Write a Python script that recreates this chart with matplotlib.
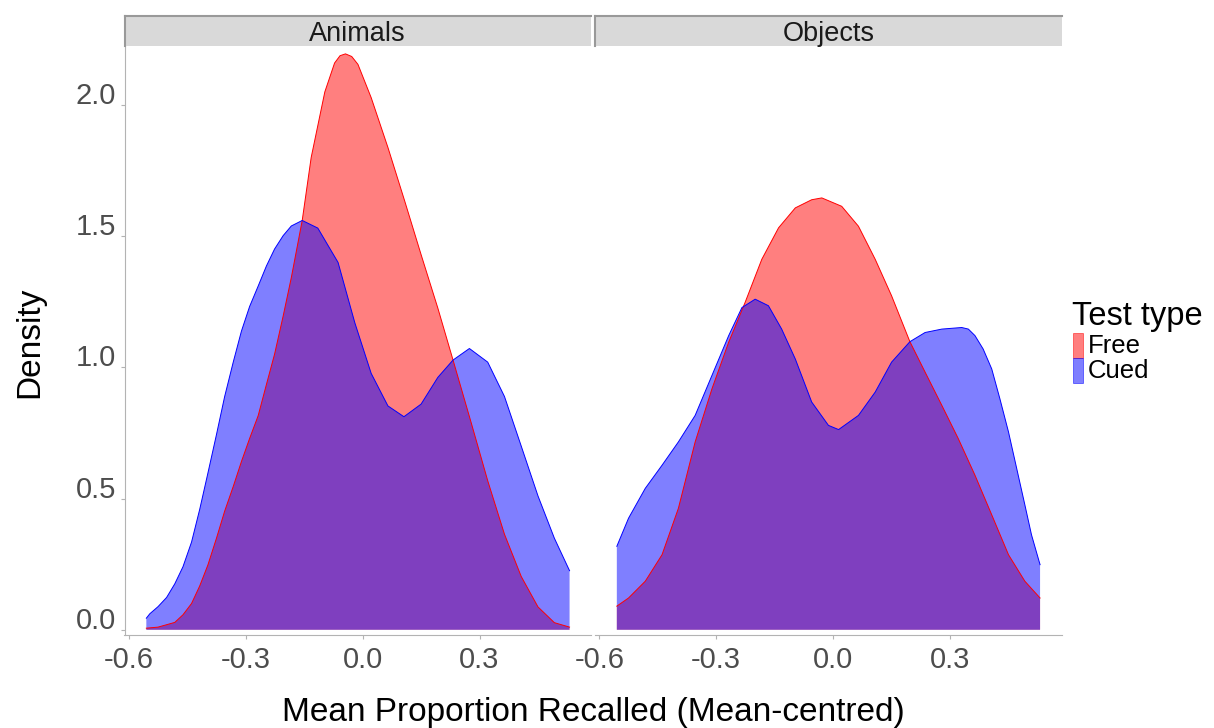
import matplotlib.pyplot as plt
import matplotlib.transforms as mtransforms
from matplotlib.patches import Rectangle

plt.rcParams['font.family'] = ['Liberation Sans', 'DejaVu Sans']

# Density curves (x = mean-centred proportion, y = density)
panels = ['Animals', 'Objects']
test_types = ['Free', 'Cued']

animals_free_x = [-0.555, -0.525, -0.482, -0.461, -0.439, -0.418, -0.397, -0.375, -0.354,
                  -0.332, -0.311, -0.290, -0.268, -0.247, -0.226, -0.204, -0.183, -0.155,
                  -0.132, -0.097, -0.072, -0.058, -0.044, -0.028, -0.012, 0.022, 0.065,
                  0.108, 0.150, 0.193, 0.232, 0.279, 0.321, 0.364, 0.407, 0.450, 0.492,
                  0.531]
animals_free_y = [0.006, 0.010, 0.028, 0.057, 0.100, 0.167, 0.247, 0.349, 0.452,
                  0.546, 0.641, 0.729, 0.816, 0.934, 1.050, 1.195, 1.342, 1.560,
                  1.800, 2.050, 2.160, 2.188, 2.195, 2.185, 2.155, 2.028, 1.838,
                  1.634, 1.430, 1.226, 1.028, 0.787, 0.568, 0.364, 0.203, 0.087, 0.027,
                  0.010]

animals_cued_x = [-0.555, -0.546, -0.525, -0.503, -0.482, -0.461, -0.439, -0.418, -0.397,
                  -0.375, -0.354, -0.332, -0.311, -0.290, -0.268, -0.247, -0.226, -0.204,
                  -0.183, -0.155, -0.115, -0.063, -0.020, 0.022, 0.065, 0.106, 0.150,
                  0.193, 0.232, 0.274, 0.321, 0.364, 0.407, 0.450, 0.492, 0.531]
animals_cued_y = [0.044, 0.061, 0.088, 0.123, 0.175, 0.240, 0.334, 0.459, 0.597,
                  0.744, 0.889, 1.020, 1.138, 1.232, 1.310, 1.386, 1.451, 1.502,
                  1.539, 1.560, 1.531, 1.400, 1.170, 0.977, 0.853, 0.812, 0.860,
                  0.962, 1.028, 1.072, 1.020, 0.889, 0.700, 0.510, 0.349, 0.225]

objects_free_x = [-0.555, -0.525, -0.482, -0.439, -0.397, -0.354, -0.311, -0.268, -0.226,
                  -0.183, -0.140, -0.097, -0.055, -0.029, 0.022, 0.065, 0.108, 0.150,
                  0.197, 0.236, 0.279, 0.321, 0.364, 0.407, 0.450, 0.492, 0.531]
objects_free_y = [0.090, 0.121, 0.185, 0.286, 0.463, 0.716, 0.918, 1.096, 1.247,
                  1.412, 1.532, 1.608, 1.639, 1.646, 1.614, 1.538, 1.412, 1.273,
                  1.098, 0.982, 0.855, 0.729, 0.589, 0.438, 0.286, 0.185, 0.121]

objects_cued_x = [-0.555, -0.525, -0.482, -0.439, -0.397, -0.354, -0.311, -0.268, -0.234,
                  -0.200, -0.166, -0.132, -0.097, -0.055, -0.012, 0.014, 0.065, 0.108,
                  0.150, 0.197, 0.236, 0.279, 0.330, 0.347, 0.364, 0.385, 0.407, 0.428,
                  0.450, 0.471, 0.492, 0.509, 0.531]
objects_cued_y = [0.318, 0.425, 0.539, 0.627, 0.716, 0.817, 0.969, 1.121, 1.228,
                  1.260, 1.235, 1.146, 1.032, 0.868, 0.779, 0.763, 0.817, 0.906,
                  1.020, 1.098, 1.133, 1.146, 1.152, 1.146, 1.121, 1.070, 0.994, 0.880,
                  0.754, 0.615, 0.476, 0.362, 0.248]

curves = {
    'Animals': {'Free': (animals_free_x, animals_free_y), 'Cued': (animals_cued_x, animals_cued_y)},
    'Objects': {'Free': (objects_free_x, objects_free_y), 'Cued': (objects_cued_x, objects_cued_y)},
}
line_colors = {'Free': '#FF0000', 'Cued': '#0000FF'}

x_ticks = [-0.6, -0.3, 0.0, 0.3]
y_ticks = [0.0, 0.5, 1.0, 1.5, 2.0]

W, H = 1214, 728
fig = plt.figure(figsize=(W / 100, H / 100), dpi=100)


def fig_box(left, top, right, bottom):
    return [left / W, 1 - bottom / H, (right - left) / W, (bottom - top) / H]


axis_grey = '#b3b3b3'
panel_lefts = [124.5, 595]
for i, name in enumerate(panels):
    left = panel_lefts[i]
    ax = fig.add_axes(fig_box(left, 46, left + 466.5, 635))
    for t in test_types:
        xs, ys = curves[name][t]
        ax.fill_between(xs, 0, ys, facecolor=line_colors[t], alpha=0.5, linewidth=0)
        ax.plot(xs, ys, color=line_colors[t], linewidth=0.7)
    ax.set_xlim(-0.611, 0.586)
    ax.set_ylim(-0.02, 2.225)
    ax.set_xticks(x_ticks)
    ax.set_xticklabels(['%.1f' % v for v in x_ticks])
    ax.set_yticks(y_ticks)
    for s in ['top', 'right']:
        ax.spines[s].set_visible(False)
    ax.spines['bottom'].set_color(axis_grey)
    ax.spines['left'].set_color(axis_grey)
    ax.tick_params(axis='both', colors=axis_grey, labelcolor='#4d4d4d', labelsize=21,
                   length=3, width=0.8)
    ax.tick_params(axis='x', pad=5)
    ax.tick_params(axis='y', pad=3)
    if i == 0:
        ax.set_yticklabels(['%.1f' % v for v in y_ticks])
        shift = mtransforms.ScaledTranslation(0, 12 / 100, fig.dpi_scale_trans)
        for lab in ax.get_yticklabels():
            lab.set_transform(lab.get_transform() + shift)
    else:
        ax.spines['left'].set_visible(False)
        ax.tick_params(axis='y', left=False, labelleft=False)

    # facet strip
    sax = fig.add_axes(fig_box(left, 16, left + 466.5, 46))
    sax.set_facecolor('#d9d9d9')
    sax.set_xticks([])
    sax.set_yticks([])
    for s in ['bottom', 'right']:
        sax.spines[s].set_visible(False)
    for s in ['top', 'left']:
        sax.spines[s].set_color('#999999')
        sax.spines[s].set_linewidth(1.5)
    sax.text(0.5, 0.4, name, ha='center', va='center', fontsize=19.5, color='#1a1a1a',
             transform=sax.transAxes)

fig.text(593 / W, 1 - 712 / H, 'Mean Proportion Recalled (Mean-centred)', ha='center',
         va='center', fontsize=24, color='black')
fig.text(30 / W, 1 - 342 / H, 'Density', ha='center', va='center', rotation=90,
         fontsize=24, color='black')

# legend
fig.text(1072 / W, 1 - 316 / H, 'Test type', ha='left', va='center', fontsize=23.5)
key_rows = [('Free', 333), ('Cued', 358)]
for label, top in key_rows:
    fig.patches.append(Rectangle((1073 / W, 1 - (top + 25) / H), 10 / W, 25 / H,
                                 transform=fig.transFigure, facecolor=line_colors[label],
                                 alpha=0.5, edgecolor=line_colors[label], linewidth=0.7))
    fig.text(1088 / W, 1 - (top + 13) / H, label, ha='left', va='center', fontsize=18.5)

fig.savefig('out.png', dpi=100)
